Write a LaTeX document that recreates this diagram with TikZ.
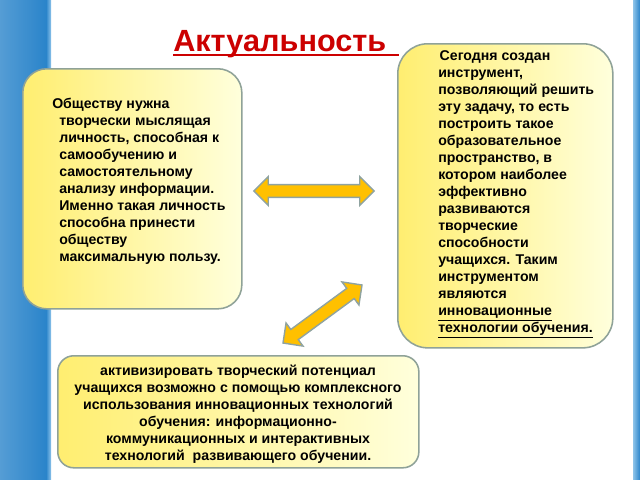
\documentclass[tikz,border=0pt]{standalone}
\usepackage{fontspec}
\setmainfont{Liberation Sans}
\usetikzlibrary{shapes.arrows}
\definecolor{barblue}{HTML}{2A84CA}
\definecolor{barlight}{HTML}{8EC4EA}
\definecolor{titlered}{HTML}{CC0000}
\definecolor{boxdark}{HTML}{FFEE70}
\definecolor{boxlight}{HTML}{FFFFDC}
\definecolor{boxline}{HTML}{8FA298}
\definecolor{arrowfill}{HTML}{FFC000}
\definecolor{arrowline}{HTML}{8FA3A0}
\tikzstyle{box}=[rectangle, rounded corners=0.6cm, draw=boxline, line width=1.1pt, left color=boxdark, right color=boxlight, inner sep=0pt]
\tikzstyle{annot}=[inner sep=0pt, font=\fontsize{10.05}{12.1}\selectfont\bfseries]
\tikzstyle{dblarrow}=[double arrow, fill=arrowfill, draw=arrowline, line width=1pt, minimum height=3cm, minimum width=0.7cm, inner sep=0.14cm, double arrow head extend=0.2cm]

\begin{document}
\begin{tikzpicture}[x=0.025cm, y=-0.025cm]
	\useasboundingbox (0,0) rectangle (640,480);
	\fill[white] (0,0) rectangle (640,480);

	% blue side bars
	\shade[left color=barblue!80!white, right color=barblue] (0,0) rectangle (46,480);
	\shade[left color=barblue, right color=barlight] (46,0) rectangle (51,480);
	\shade[left color=barlight, right color=barblue] (633,0) rectangle (640,480);

	% title
	\node[font=\fontsize{21.8}{24}\selectfont\bfseries, text=titlered, anchor=base west, inner sep=0pt] (title) at (173,51) {Актуальность};
	\draw[titlered, line width=1.6pt] ([yshift=-3pt]title.base west) -- ([yshift=-3pt, xshift=9pt]title.base east);

	% boxes
	\node[box, minimum width=5.475cm, minimum height=6cm, anchor=north west] (society) at (22,68) {};
	\node[box, rounded corners=0.75cm, minimum width=5.375cm, minimum height=7.6cm, anchor=north west] (tool) at (397,43) {};
	\node[box, rounded corners=0.4cm, minimum width=9.025cm, minimum height=2.8cm, anchor=north west] (method) at (57,355) {};

	% texts
	\node[annot, align=left, anchor=north west] (societytext) at (59,98) {\hspace*{-5pt}Обществу нужна\\
		творчески мыслящая\\
		личность, способная к\\
		самообучению и\\
		самостоятельному\\
		анализу информации.\\
		Именно такая личность\\
		способна принести\\
		обществу\\
		максимальную пользу.};
	\node[annot, align=left, anchor=north west] (tooltext) at (438,50) {\hspace*{1pt}Сегодня создан\\
		инструмент,\\
		позволяющий решить\\
		эту задачу, то есть\\
		построить такое\\
		образовательное\\
		пространство, в\\
		котором наиболее\\
		эффективно\\
		развиваются\\
		творческие\\
		способности\\
		учащихся. Таким\\
		инструментом\\
		являются\\
		\underline{инновационные}\\
		\underline{технологии обучения.}};
	\node[annot, align=center, anchor=north] (methodtext) at (238,365) {активизировать творческий потенциал\\
		учащихся возможно с помощью комплексного\\
		использования инновационных технологий\\
		обучения: информационно-\\
		коммуникационных и интерактивных\\
		технологий\ \ развивающего обучении.};

	% arrows
	\node[dblarrow] (harrow) at (314,191) {};
	\node[dblarrow, minimum height=2.45cm, rotate=36.3] (darrow) at (322.5,314) {};
\end{tikzpicture}
\end{document}
